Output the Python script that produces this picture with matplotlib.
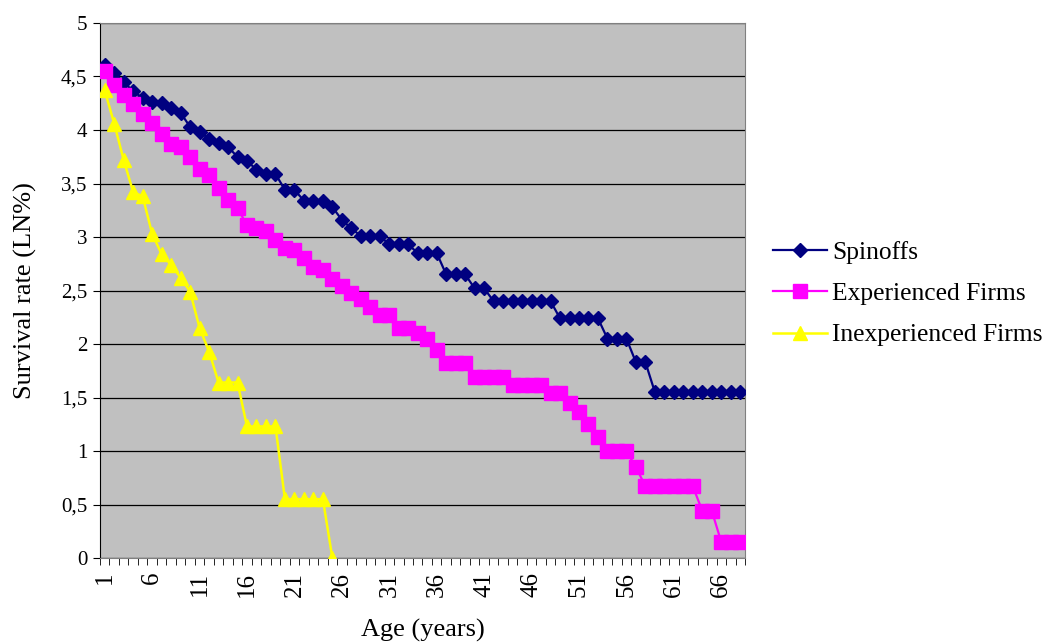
import matplotlib
matplotlib.use("Agg")
import matplotlib.pyplot as plt
from matplotlib.ticker import FixedLocator, FuncFormatter
import numpy as np

plt.rcParams['font.family'] = ['Liberation Serif', 'DejaVu Serif']

# survival rates (LN%) by age
spinoffs = [4.61, 4.53, 4.45, 4.36, 4.30, 4.26, 4.25, 4.21, 4.16, 4.03,
            3.98, 3.92, 3.88, 3.84, 3.75, 3.71, 3.63, 3.59, 3.59, 3.44,
            3.44, 3.34, 3.34, 3.34, 3.28, 3.16, 3.08, 3.01, 3.01, 3.01,
            2.93, 2.93, 2.93, 2.85, 2.85, 2.85, 2.65, 2.65, 2.65, 2.52,
            2.52, 2.40, 2.40, 2.40, 2.40, 2.40, 2.40, 2.40, 2.24, 2.24,
            2.24, 2.24, 2.24, 2.05, 2.05, 2.05, 1.83, 1.83, 1.55, 1.55,
            1.55, 1.55, 1.55, 1.55, 1.55, 1.55, 1.55, 1.55]
experienced = [4.55, 4.42, 4.33, 4.24, 4.15, 4.07, 3.96, 3.87, 3.84, 3.75,
               3.64, 3.58, 3.46, 3.35, 3.27, 3.11, 3.08, 3.06, 2.97, 2.90,
               2.88, 2.80, 2.72, 2.69, 2.61, 2.54, 2.48, 2.42, 2.35, 2.27,
               2.27, 2.15, 2.15, 2.10, 2.05, 1.94, 1.82, 1.82, 1.82, 1.69,
               1.69, 1.69, 1.69, 1.62, 1.62, 1.62, 1.62, 1.54, 1.54, 1.45,
               1.36, 1.25, 1.13, 1.00, 1.00, 1.00, 0.85, 0.67, 0.67, 0.67,
               0.67, 0.67, 0.67, 0.44, 0.44, 0.15, 0.15, 0.15]
inexperienced = [4.37, 4.06, 3.72, 3.42, 3.38, 3.03, 2.84, 2.74, 2.62, 2.49,
                 2.15, 1.93, 1.64, 1.64, 1.64, 1.23, 1.23, 1.23, 1.23, 0.55,
                 0.55, 0.55, 0.55, 0.55, 0.0]

age_spin = np.arange(1, len(spinoffs) + 1)
age_exp = np.arange(1, len(experienced) + 1)
age_inexp = np.arange(1, len(inexperienced) + 1)
x_labels = list(range(1, 67, 5))

fig = plt.figure(figsize=(10.49, 6.44), dpi=100)
ax = fig.add_axes([0.0953, 0.1335, 0.6149, 0.8308])
ax.set_facecolor('#C0C0C0')

ax.plot(age_spin, spinoffs, color='#000080', lw=1.6, marker='D', ms=7,
        label='Spinoffs', zorder=3)
ax.plot(age_exp, experienced, color='#FF00FF', lw=1.6, marker='s', ms=10,
        label='Experienced Firms', zorder=3)
ax.plot(age_inexp, inexperienced, color='#FFFF00', lw=1.8, marker='^', ms=10.5,
        label='Inexperienced Firms', zorder=3)

ax.set_xlim(0.5, len(spinoffs) + 0.5)
ax.set_ylim(0, 5)
ax.set_yticks(np.arange(0, 5.01, 0.5))
ax.yaxis.set_major_formatter(FuncFormatter(lambda v, p: f'{v:g}'.replace('.', ',')))
ax.grid(axis='y', color='black', lw=0.9)
ax.set_axisbelow(True)

ax.xaxis.set_major_locator(FixedLocator(x_labels))
ax.set_xticklabels([str(v) for v in x_labels], rotation=90, va='top')
ax.xaxis.set_minor_locator(FixedLocator(np.arange(0.5, len(spinoffs) + 1, 1)))
ax.tick_params(axis='x', which='major', length=0, pad=10, labelsize=18)
ax.tick_params(axis='x', which='minor', length=5, direction='out', color='black')
ax.tick_params(axis='y', length=5, direction='out', labelsize=15, pad=4)

for s in ['top', 'right']:
    ax.spines[s].set_color('#808080')
ax.spines['bottom'].set_color('#808080')
ax.spines['left'].set_color('black')

ax.set_xlabel('Age (years)', fontsize=19, labelpad=16)
ax.set_ylabel('Survival rate (LN%)', fontsize=19, labelpad=17)

fig.legend(loc='center left', bbox_to_anchor=(0.725, 0.544), frameon=False,
           fontsize=18.4, handlelength=2.1, handletextpad=0.2, labelspacing=0.72,
           borderpad=0)

fig.savefig('out.png', dpi=100)
